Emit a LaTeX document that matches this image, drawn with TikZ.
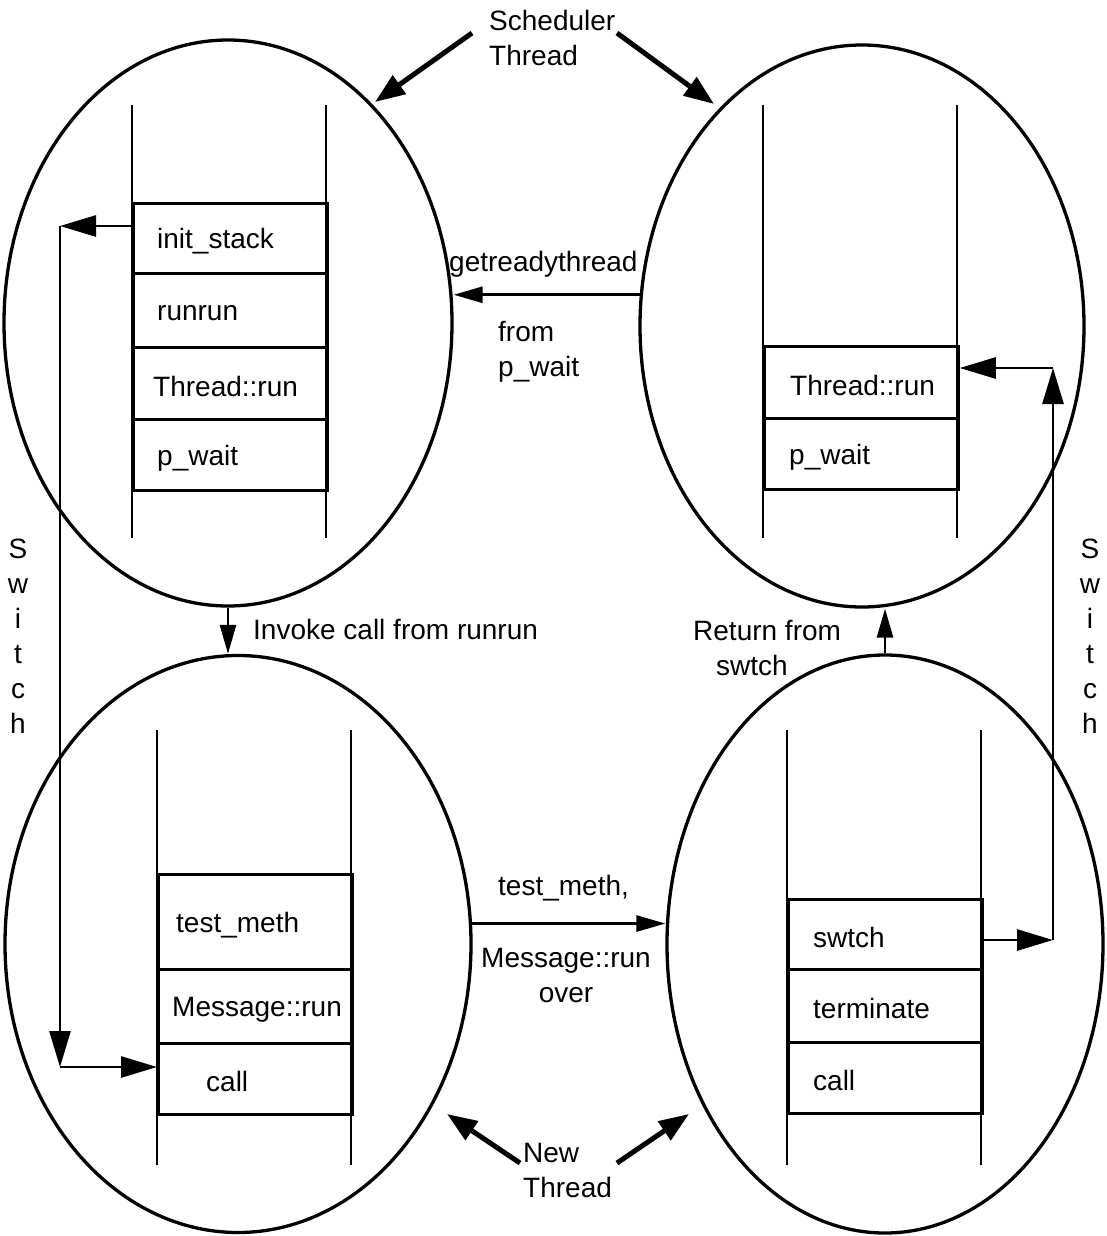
\documentclass[tikz,border=0pt]{standalone}
\usepackage{fontspec}
\setmainfont{Liberation Sans}
\usetikzlibrary{arrows.meta,shapes.geometric}

\begin{document}
\begin{tikzpicture}[x=1pt,y=-1pt,
  font=\fontsize{28}{35}\selectfont,
  bubble/.style={draw, ellipse, line width=3.3pt, inner sep=0pt},
  rail/.style={line width=2.8pt},
  frame/.style={draw, line width=2.8pt, minimum width=194pt, inner sep=0pt, anchor=north west},
  lbl/.style={anchor=west, inner sep=0pt, yshift=-3pt},
  txt/.style={inner sep=0pt, align=left},
  arr/.style={line width=2.8pt, -{Triangle[length=36pt, width=21pt]}},
  arrsm/.style={line width=2.8pt, -{Triangle[length=29pt, width=16pt]}},
  fat/.style={line width=5pt, -{Triangle[length=30pt, width=22pt]}}]

\useasboundingbox (0,0) rectangle (1106,1236);

% ---- the four thread stacks, drawn as ellipses ----
\node[bubble, minimum width=448pt, minimum height=566pt] (tl) at (228,323) {};
\node[bubble, minimum width=444pt, minimum height=562pt] (tr) at (862,326) {};
\node[bubble, minimum width=466pt, minimum height=577pt] (bl) at (238,944) {};
\node[bubble, minimum width=436pt, minimum height=578pt] (br) at (885,944) {};

% ---- scheduler stack (top left) ----
\draw[rail] (132,105) -- (132,538);
\draw[rail] (326,105) -- (326,538);
\node[frame, minimum height=70pt] (ist) at (132,202) {};
\node[frame, minimum height=74pt] (rr) at (132,272) {};
\node[frame, minimum height=72pt] (trun) at (132,346) {};
\node[frame, minimum height=71pt] (pw) at (132,418) {};
\node[lbl] (istL) at ([xshift=25pt]ist.west) {init\_stack};
\node[lbl] (rrL) at ([xshift=25pt]rr.west) {runrun};
\node[lbl] (trunL) at ([xshift=21pt]trun.west) {Thread::run};
\node[lbl] (pwL) at ([xshift=25pt]pw.west) {p\_wait};

% ---- waiting stack (top right) ----
\draw[rail] (763,105) -- (763,538);
\draw[rail] (957,105) -- (957,538);
\node[frame, minimum height=72pt] (trrun) at (763,345) {};
\node[frame, minimum height=71pt] (trpw) at (763,417) {};
\node[lbl] (trrunL) at ([xshift=27pt]trrun.west) {Thread::run};
\node[lbl] (trpwL) at ([xshift=26pt]trpw.west) {p\_wait};

% ---- new thread stack (bottom left) ----
\draw[rail] (157,730) -- (157,1165);
\draw[rail] (351,730) -- (351,1165);
\node[frame, minimum height=95pt] (tm) at (157,873) {};
\node[frame, minimum height=74pt] (mr) at (157,968) {};
\node[frame, minimum height=71pt] (cl) at (157,1042) {};
\node[lbl] (tmL) at ([xshift=19pt]tm.west) {test\_meth};
\node[lbl] (mrL) at ([xshift=15pt]mr.west) {Message::run};
\node[lbl] (clL) at ([xshift=49pt]cl.west) {call};

% ---- terminating stack (bottom right) ----
\draw[rail] (787,730) -- (787,1165);
\draw[rail] (981,730) -- (981,1165);
\node[frame, minimum height=70pt] (sw) at (787,898) {};
\node[frame, minimum height=73pt] (tmn) at (787,968) {};
\node[frame, minimum height=71pt] (brc) at (787,1041) {};
\node[lbl] (swL) at ([xshift=26pt]sw.west) {swtch};
\node[lbl] (tmnL) at ([xshift=26pt]tmn.west) {terminate};
\node[lbl] (brcL) at ([xshift=26pt]brc.west) {call};

% ---- captions ----
\node[txt, anchor=west] (sched) at (489,38) {Scheduler\\Thread};
\node[txt, anchor=west] (newt) at (523,1170) {New\\Thread};
\node[txt, anchor=west] (grt) at (449,264) {getreadythread};
\node[txt, anchor=west] (frm) at (498,352) {from\\p\_wait};
\node[txt, anchor=west] (inv) at (253,629) {Invoke call from runrun};
\node[txt, anchor=west] (ret) at (693,648) {Return from\\\hspace*{23pt}swtch};
\node[txt, anchor=west] (tmc) at (498,888) {test\_meth,};
\node[txt, align=center] (mro) at (566,975) {Message::run\\over};
\node[txt, align=center] (swl) at (18,636) {S\\w\\i\\t\\c\\h};
\node[txt, align=center] (swr) at (1090,636) {S\\w\\i\\t\\c\\h};

% ---- thread arrows ----
\coordinate (schA) at (472,33);
\coordinate (schB) at (617,33);
\coordinate (newA) at (520,1163);
\coordinate (newB) at (617,1163);
\draw[fat] (schA) -- (375,102);
\draw[fat] (schB) -- (714,104);
\draw[fat] (newA) -- (447,1114);
\draw[fat] (newB) -- (689,1114);

% ---- transitions between stacks ----
\draw[arrsm] (tr.172.5) -- (tr.172.5 -| tl.east);
\draw[arrsm] (tl.south) -- (tl.south |- bl.north);
\draw[arrsm] (br.north) -- (br.north |- tr.south);
\draw[arrsm] (bl.5.4) -- (bl.5.4 -| br.west);

% ---- switch paths ----
\coordinate (swA) at (60,226);
\coordinate (swB) at (60,1067);
\draw[arr] (swA -| ist.west) -- (swA);
\draw[arr] (swA) -- (swB);
\draw[arr] (swB) -- (swB -| cl.west);

\coordinate (swC) at (1053,940);
\coordinate (swD) at (1053,368);
\draw[arr] (swC -| sw.east) -- (swC);
\draw[arr] (swC) -- (swD);
\draw[arr] (swD) -- (swD -| trrun.east);
\end{tikzpicture}
\end{document}
